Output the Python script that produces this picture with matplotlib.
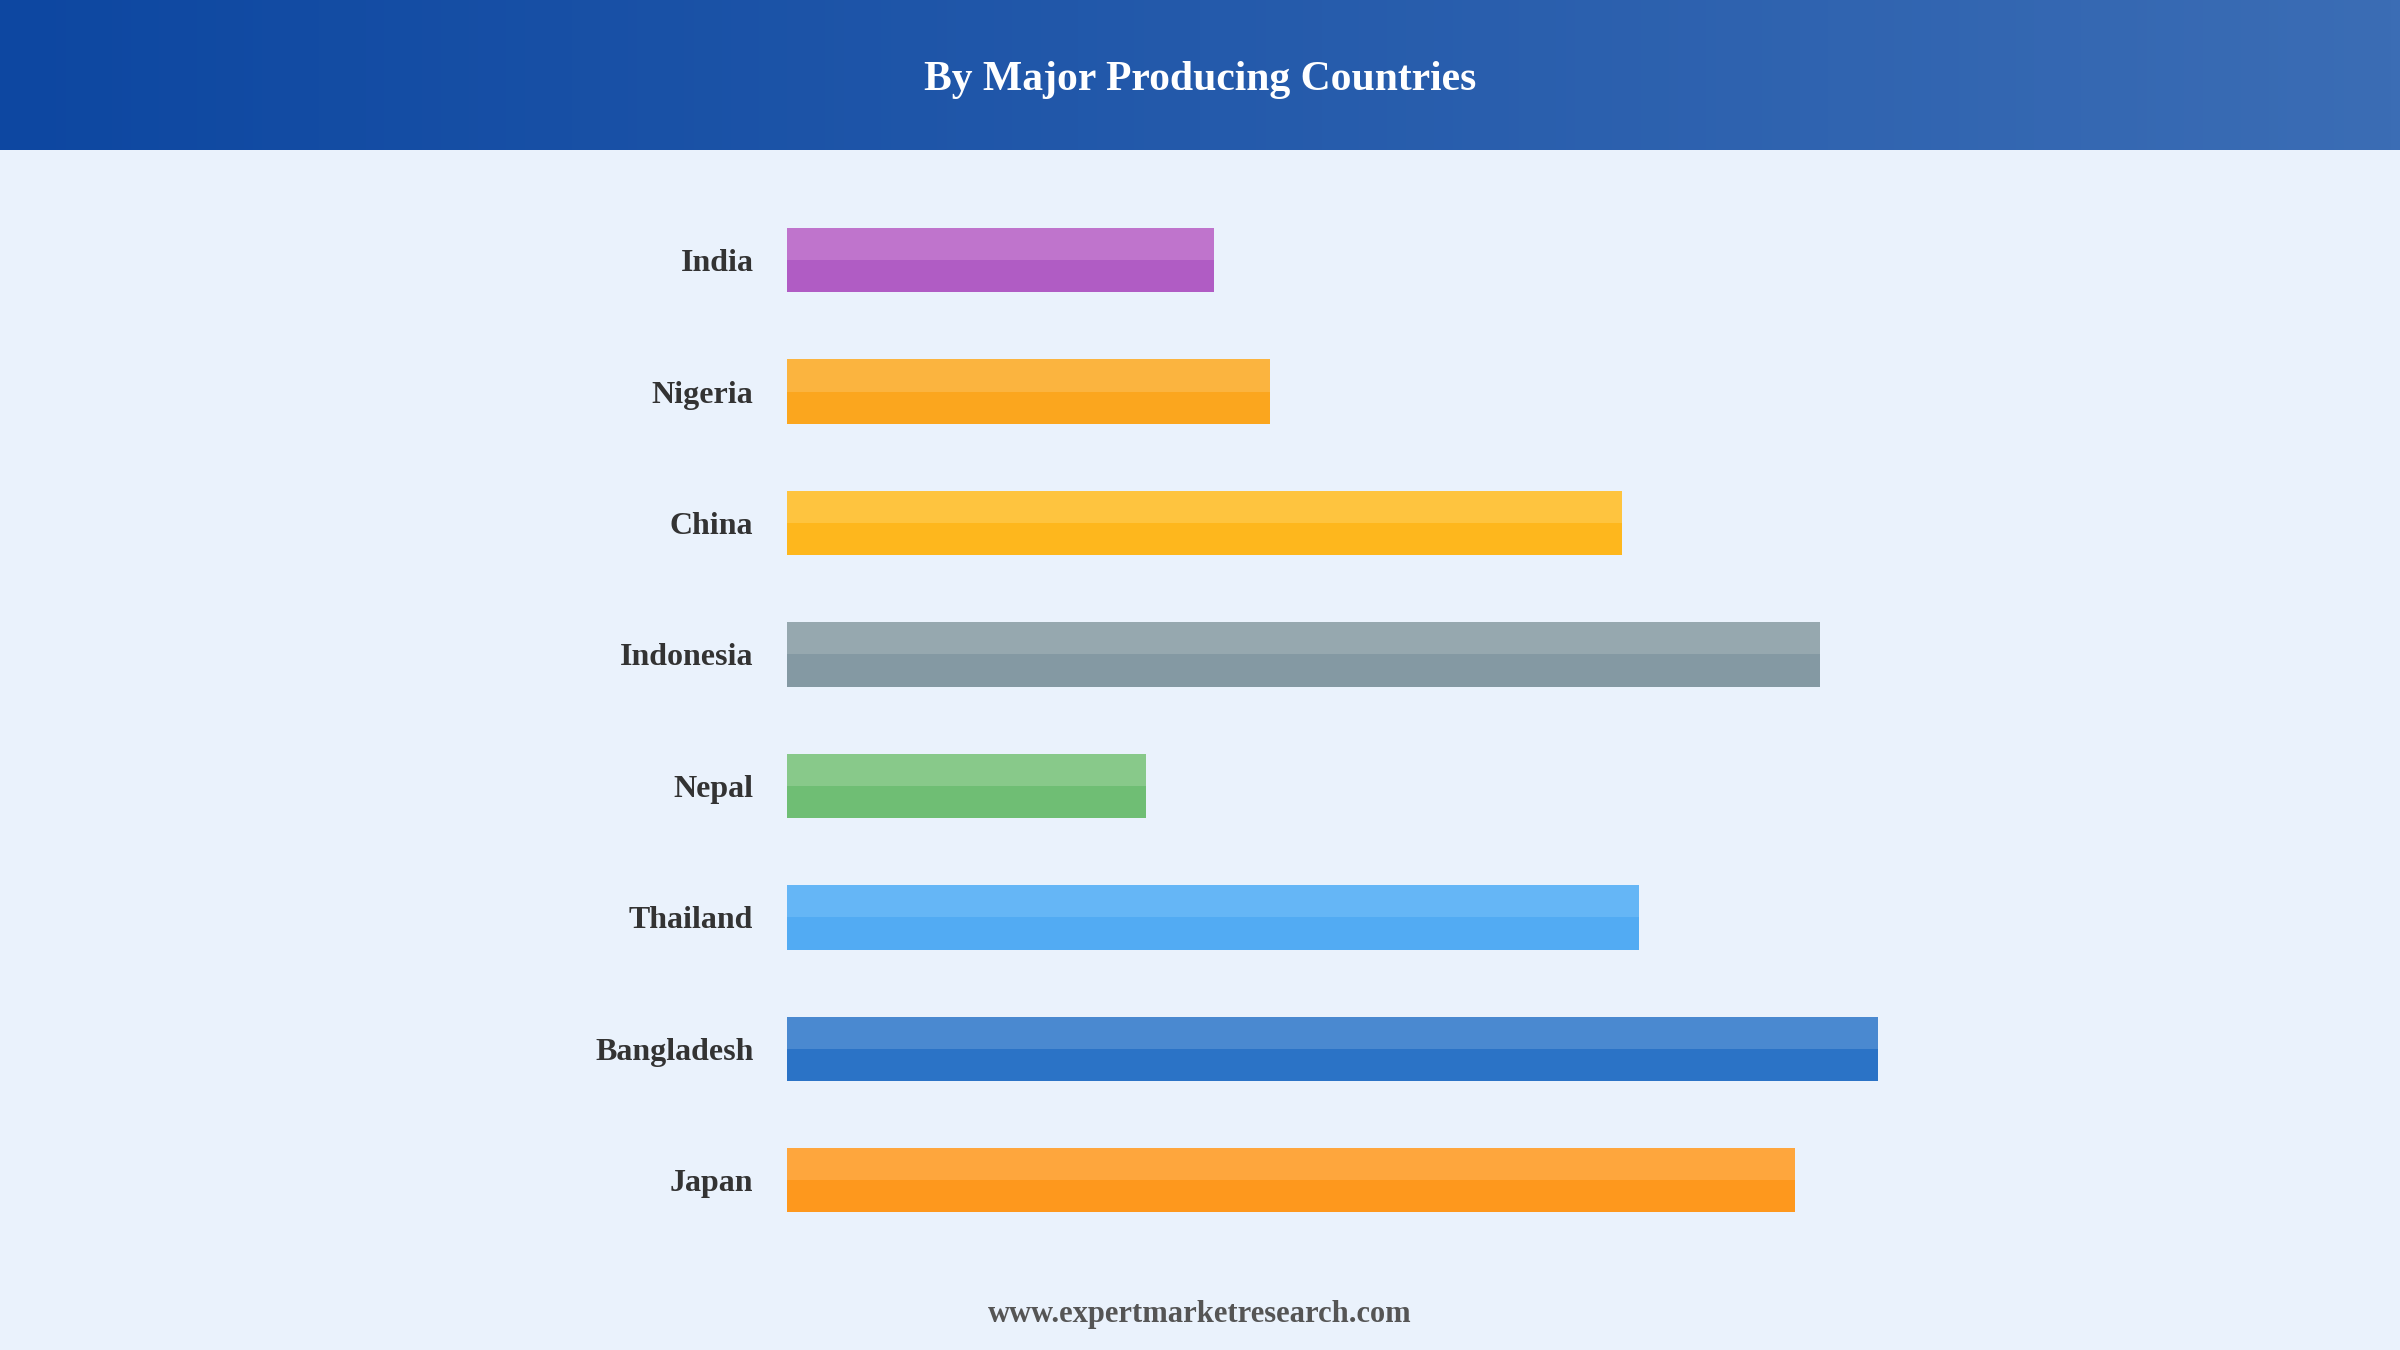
import matplotlib
matplotlib.use("Agg")
import matplotlib.pyplot as plt
import numpy as np

countries = ["India", "Nigeria", "China", "Indonesia", "Nepal", "Thailand", "Bangladesh", "Japan"]
values = [279, 316, 546, 675, 235, 557, 713, 659]
dark_colors = ["#b05cc4", "#fba61e", "#feb71d", "#8499a3", "#6fbe74", "#52abf3", "#2b73c6", "#fe981d"]
light_colors = ["#bf74cc", "#fbb43f", "#fec43f", "#96a8af", "#88c98a", "#65b6f6", "#4a89d0", "#fea63d"]

plt.rcParams['font.family'] = ['Liberation Serif', 'DejaVu Serif']
W, H = 1568, 882
fig = plt.figure(figsize=(12, 6.75), dpi=200)
fig.patch.set_facecolor("#eaf2fc")

# header gradient
hax = fig.add_axes([0, 1 - 98 / H, 1, 98 / H])
grad = np.linspace(0, 1, 256)[None, :]
from matplotlib.colors import LinearSegmentedColormap
cmap = LinearSegmentedColormap.from_list("h", ["#0d47a1", "#3b6db5"])
hax.imshow(grad, aspect="auto", cmap=cmap, extent=[0, 1, 0, 1])
hax.axis("off")
fig.text(0.5, 1 - 52 / H, "By Major Producing Countries", ha="center", va="center",
         color="white", fontsize=15, fontweight="bold")

ax = fig.add_axes([514 / W, 1 - 814 / H, 740 / W, (814 - 127) / H])
ax.set_facecolor("none")
ax.set_xlim(0, 740)
n = len(countries)
y = np.arange(n)
h = 0.49
ax.barh(y, values, height=h, color=dark_colors)
ax.barh(y - h / 4, values, height=h / 2, color=light_colors)
ax.set_ylim(n - 0.5, -0.5)
ax.set_yticks(y)
ax.set_yticklabels(countries, fontsize=11.5, fontweight="bold", color="#333333")
ax.tick_params(axis="y", length=0, pad=12)
ax.set_xticks([])
for s in ax.spines.values():
    s.set_visible(False)

fig.text(0.5, 1 - 859 / H, "www.expertmarketresearch.com", ha="center", va="center",
         color="#555555", fontsize=11, fontweight="bold")
fig.savefig("out.png", dpi=200, facecolor=fig.get_facecolor())
